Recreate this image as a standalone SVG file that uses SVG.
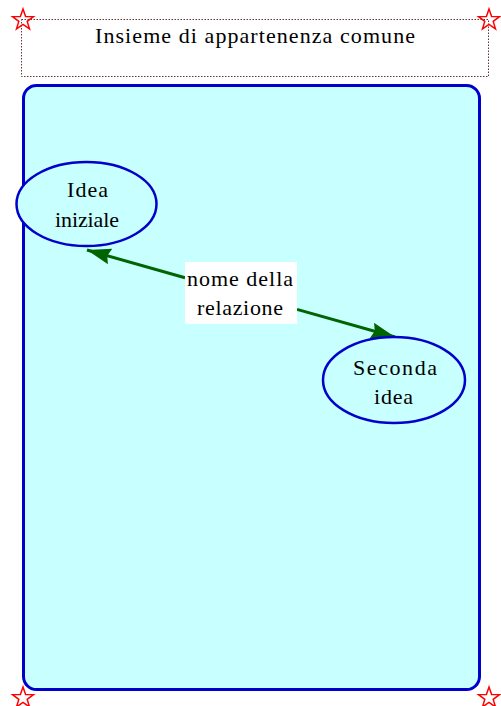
<svg xmlns="http://www.w3.org/2000/svg" width="501" height="706" viewBox="0 0 501 706">
<style>
.t{font-family:"Liberation Serif","Times New Roman",serif;font-size:22px;fill:#000;text-anchor:middle}
.node{fill:#c8ffff;stroke:#0000cc;stroke-width:2.5}
.star{fill:none;stroke:#ff0000;stroke-width:1.5}
.conn{stroke:#006400;stroke-width:3;fill:none}
</style>
<defs>
<polygon id="star" points="0,-11 2.6,-3.6 10.5,-3.4 4.2,1.4 6.5,8.9 0,4.5 -6.5,8.9 -4.2,1.4 -10.5,-3.4 -2.6,-3.6"/>
<marker id="ah" markerWidth="26" markerHeight="18" refX="24" refY="8" orient="auto" markerUnits="userSpaceOnUse">
<path d="M0,0 L24,8 L0,16 L3,8 Z" fill="#006400"/>
</marker>
</defs>
<g id="title">
<rect x="21.5" y="19.5" width="467" height="57" fill="#fff" stroke="#663333" stroke-width="1" stroke-dasharray="1.5,1.5"/>
<text class="t" x="255" y="43" textLength="320" lengthAdjust="spacing">Insieme di appartenenza comune</text>
</g>
<g id="container">
<rect x="23.5" y="85.5" width="456" height="604" rx="13" ry="13" fill="#c8ffff" stroke="#0000cc" stroke-width="3"/>
</g>
<g id="connectors">
<line class="conn" x1="185" y1="277.7" x2="87" y2="250" marker-end="url(#ah)"/>
<line class="conn" x1="297" y1="309.4" x2="395" y2="337" marker-end="url(#ah)"/>
</g>
<g id="node1">
<ellipse class="node" cx="86.5" cy="204" rx="70" ry="42"/>
<text class="t" x="87.5" y="197" textLength="41" lengthAdjust="spacing">Idea</text>
<text class="t" x="87" y="227" textLength="64" lengthAdjust="spacing">iniziale</text>
</g>
<g id="node2">
<ellipse class="node" cx="394" cy="380" rx="71" ry="43"/>
<text class="t" x="395" y="375" textLength="84" lengthAdjust="spacing">Seconda</text>
<text class="t" x="393.5" y="404" textLength="39" lengthAdjust="spacing">idea</text>
</g>
<g id="label">
<rect x="185" y="262" width="112" height="62" fill="#fff"/>
<text class="t" x="240" y="286" textLength="106" lengthAdjust="spacing">nome della</text>
<text class="t" x="240" y="315" textLength="86" lengthAdjust="spacing">relazione</text>
</g>
<g id="stars">
<use href="#star" class="star" x="23" y="20"/>
<use href="#star" class="star" x="489" y="20"/>
<use href="#star" class="star" x="23" y="698"/>
<use href="#star" class="star" x="489" y="698"/>
</g>
</svg>
